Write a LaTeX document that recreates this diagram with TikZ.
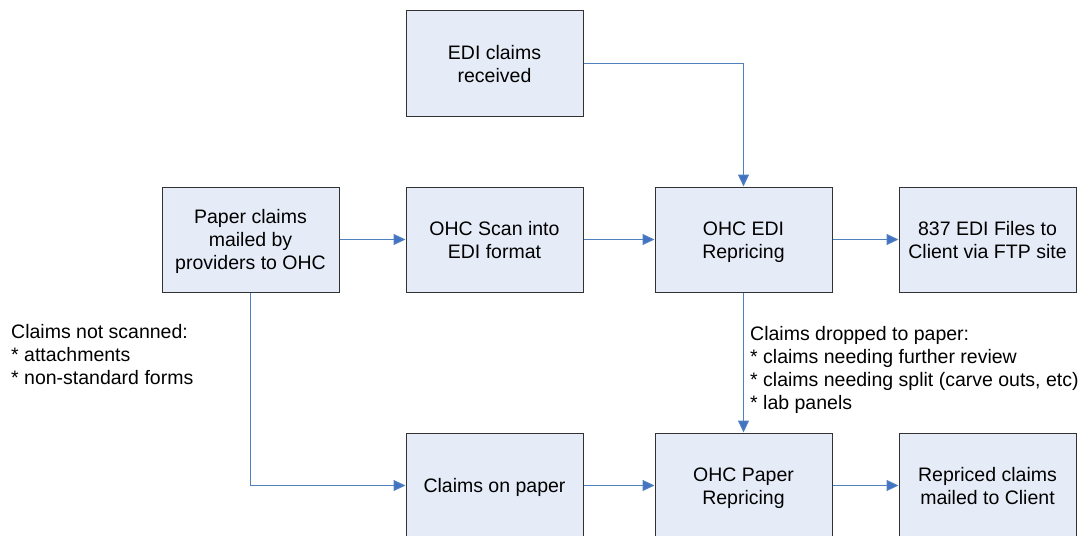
\documentclass[tikz,border=0pt]{standalone}
\usepackage{fontspec}
\setmainfont{Liberation Sans}
\usetikzlibrary{arrows.meta}
\definecolor{boxfill}{RGB}{230,236,247}
\definecolor{boxline}{RGB}{50,50,50}
\definecolor{arrowblue}{RGB}{79,129,189}
\definecolor{headblue}{RGB}{68,114,196}
\newcommand\boxtext[1]{\raisebox{-7.9pt}[0pt][0pt]{\begin{tabular}{@{}c@{}}#1\end{tabular}}}
\begin{document}
\begin{tikzpicture}[x=1pt,y=-1pt,
  procbox/.style={draw=boxline,fill=boxfill,line width=1pt,minimum width=177pt,minimum height=105pt,
    inner sep=0pt,font=\fontsize{19.5}{23}\selectfont},
  flow/.style={draw=arrowblue,line width=1pt,-{Triangle[length=12pt,width=11pt,fill=headblue]}},
  note/.style={align=left,anchor=west,inner sep=0pt,font=\fontsize{19.5}{23}\selectfont}]
\useasboundingbox (0,0) rectangle (1086,535);
\clip (0,0) rectangle (1086,535);
\node[procbox] (edi) at (494.5,63.5) {\boxtext{EDI claims\\received}};
\node[procbox] (paper) at (250.5,239.5) {\boxtext{Paper claims\\mailed by\\providers to OHC}};
\node[procbox] (scan) at (494.5,239.5) {\boxtext{OHC Scan into\\EDI format}};
\node[procbox] (ohcedi) at (743.5,239.5) {\boxtext{OHC EDI\\Repricing}};
\node[procbox] (ftp) at (987.5,239.5) {\boxtext{837 EDI Files to\\Client via FTP site}};
\node[procbox] (cop) at (494.5,485.5) {\boxtext{Claims on paper}};
\node[procbox] (ohcpaper) at (743.5,485.5) {\boxtext{OHC Paper\\Repricing}};
\node[procbox] (mailed) at (987.5,485.5) {\boxtext{Repriced claims\\mailed to Client}};
\node[note] (ns) at (11,355) {Claims not scanned:\\* attachments\\* non-standard forms};
\node[note] (dp) at (750,370) {Claims dropped to paper:\\* claims needing further review\\* claims needing split (carve outs, etc)\\* lab panels};
\draw[flow] (edi.east) -| (ohcedi.north);
\draw[flow] (paper) -- (scan);
\draw[flow] (scan) -- (ohcedi);
\draw[flow] (ohcedi) -- (ftp);
\draw[flow] (paper.south) |- (cop.west);
\draw[flow] (cop) -- (ohcpaper);
\draw[flow] (ohcpaper) -- (mailed);
\draw[flow] (ohcedi.south) -- (ohcpaper.north);
\end{tikzpicture}
\end{document}
